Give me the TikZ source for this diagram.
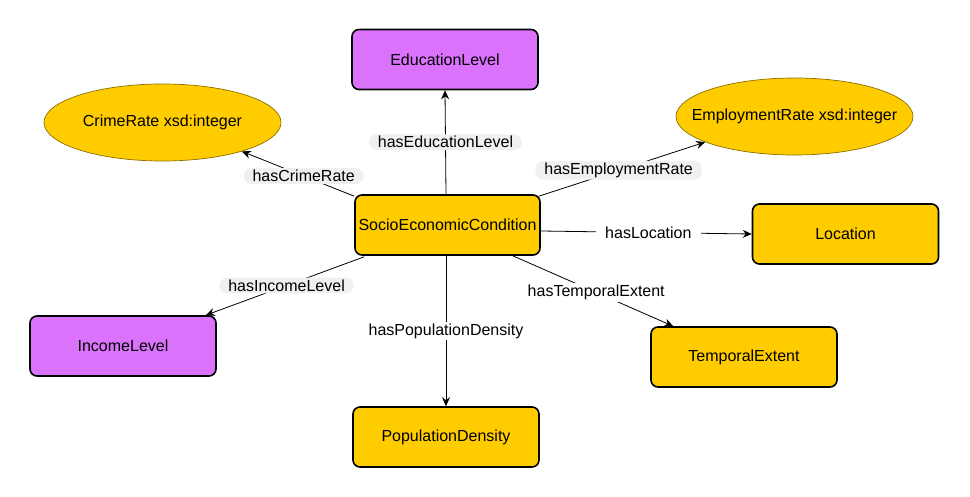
\documentclass[tikz,border=0pt]{standalone}
\usepackage{fontspec}
\setmainfont{Liberation Sans}
\usetikzlibrary{arrows.meta,shapes.geometric}
\definecolor{goldfill}{RGB}{255,204,0}
\definecolor{violetfill}{RGB}{218,114,252}
\definecolor{ovalline}{RGB}{140,110,0}
\definecolor{tagfill}{RGB}{240,240,240}
\begin{document}
\begin{tikzpicture}[
          x=1pt, y=-1pt,
          every node/.style={font=\fontsize{16}{19}\selectfont},
          cls/.style={
            draw, line width=1.6pt, rounded corners=7pt,
            minimum width=186pt, minimum height=60pt, inner sep=2pt
          },
          gold/.style={cls, fill=goldfill},
          violet/.style={cls, fill=violetfill},
          datum/.style={
            ellipse, draw=ovalline, line width=0.7pt, fill=goldfill,
            minimum width=237pt, minimum height=77pt, inner xsep=-30pt, inner ysep=0pt
          },
          rel/.style={-{Stealth[length=9pt,width=8pt,inset=3pt]}, line width=0.8pt},
          tag/.style={fill=tagfill, rounded corners=8pt, inner xsep=9pt, inner ysep=2pt},
          plaintag/.style={fill=white, inner xsep=9pt, inner ysep=2pt},
        ]
          \useasboundingbox (0,0) rectangle (970,497);

          % --- Central class ---
          \node[gold, minimum width=185pt] (sec) at (447.5, 225) {SocioEconomicCondition};

          % --- Related classes ---
          \node[violet] (edu) at (445, 59.5) {EducationLevel};
          \node[violet] (inc) at (123, 346) {IncomeLevel};
          \node[gold] (loc) at (845.5, 234) {Location};
          \node[gold] (temp) at (744, 357) {TemporalExtent};
          \node[gold] (pop) at (446, 437) {PopulationDensity};

          % --- Datatype values ---
          \node[datum] (crime) at (162.5, 122.5) {CrimeRate xsd:integer};
          \node[datum] (emp) at (794.5, 116.5) {EmploymentRate xsd:integer};

          % --- Properties ---
          \draw[rel] ([xshift=-1.5pt]sec.north) -- (edu.south)
            node[tag, pos=0.5] {hasEducationLevel};
          \draw[rel] ([yshift=-2pt]sec.north west) -- (crime.-20)
            node[tag, pos=0.45] {hasCrimeRate};
          \draw[rel] ([xshift=-2pt,yshift=-2pt]sec.north east) -- (emp.196)
            node[tag, pos=0.48] {hasEmploymentRate};
          \draw[rel] ([yshift=-6pt]sec.east) -- (loc.west)
            node[plaintag, pos=0.51] {hasLocation};
          \draw[rel] ([xshift=10pt,yshift=-1pt]sec.south west) -- ([xshift=-11pt]inc.north east)
            node[tag, pos=0.49] {hasIncomeLevel};
          \draw[rel] ([xshift=-28pt]sec.south east) -- ([xshift=23pt]temp.north west)
            node[plaintag, pos=0.52] {hasTemporalExtent};
          \draw[rel] ([xshift=-1.5pt]sec.south) -- (pop.north)
            node[plaintag, pos=0.5] {hasPopulationDensity};
        \end{tikzpicture}
\end{document}
